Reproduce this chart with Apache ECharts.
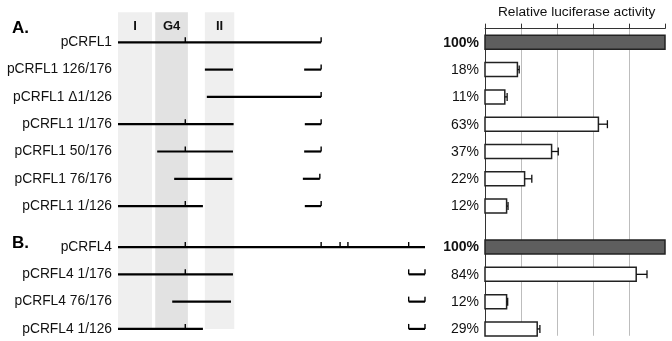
<!DOCTYPE html>
<html><head><meta charset="utf-8">
<script src="https://cdn.jsdelivr.net/npm/echarts@6/dist/echarts.min.js"></script>
<style>html,body{margin:0;padding:0;background:#fff}#c{width:672px;height:341px}</style>
</head><body><div id="c"></div><script>
// ---- data ----
const constructNames = ['pCRFL1','pCRFL1 126/176','pCRFL1 \u03941/126','pCRFL1 1/176','pCRFL1 50/176','pCRFL1 76/176','pCRFL1 1/126',
  'pCRFL4','pCRFL4 1/176','pCRFL4 76/176','pCRFL4 1/126'];
const constructGroup = ['A','A','A','A','A','A','A','B','B','B','B'];
const activity = [100,18,11,63,37,22,12,100,84,12,29];
const activityError = [0,1,1.3,5,3.7,4,0.8,0,6,0.6,1.5];
const isParent = [true,false,false,false,false,false,false,true,false,false,false];
const regionNames = ['I','G4','II'];
const regionStart = [0,57,133];
const regionEnd = [52,107,178];
// schematic segments: [construct index, start, end]
const segments = [
  [0,0,311],
  [1,133,176],[1,285,311],
  [2,136,311],
  [3,0,177],[3,286,311],
  [4,60,176],[4,285,311],
  [5,86,175],[5,283,309],
  [6,0,130],[6,286,311],
  [7,0,470],
  [8,0,176],[8,445,470],
  [9,83,173],[9,445,470],
  [10,0,130],[10,445,470]
];
// small upward tick marks: [construct index, position]
const tickMarks = [
  [0,103],[0,311],
  [1,311],[2,311],
  [3,103],[3,311],
  [4,103],[4,311],
  [5,309],
  [6,103],[6,311],
  [7,103],[7,311],[7,340],[7,352],[7,445],
  [8,103],[8,445],[8,470],
  [9,445],[9,470],
  [10,103],[10,445],[10,470]
];
const groupLabels = ['A.','B.'];
const axisTitle = 'Relative luciferase activity';

// ---- layout helpers ----
const FONT = "'Liberation Sans', Arial, sans-serif";
const rowPos = constructGroup.map((g,i)=> i + (g==='B'?0.5:0));
const Y_MIN = -0.5, Y_MAX = 10.75;
const GTOP = 28.65, GH = 307.1;

const chart = echarts.init(document.getElementById('c'));

const barData = activity.map((v,i)=>[rowPos[i], v, activityError[i], isParent[i]?1:0]);
const segData = segments.map(s=>[rowPos[s[0]], s[1], s[2]]);
const tickData = tickMarks.map(t=>[rowPos[t[0]], t[1]]);
const labelData = constructNames.map((n,i)=>[rowPos[i], 0, n]);
const regionData = regionNames.map((n,i)=>[regionStart[i], regionEnd[i], i, n]);
const regionFill = ['#efefef','#e2e2e2','#efefef'];

const option = {
  animation:false,
  graphic:[
    {type:'text', left:12, top:20, style:{text:groupLabels[0], font:"bold 17px "+FONT, fill:'#000'}},
    {type:'text', left:12, top:235, style:{text:groupLabels[1], font:"bold 17px "+FONT, fill:'#000'}},
    {type:'text', x:576.7, y:12, style:{text:axisTitle, font:"13.7px "+FONT, fill:'#111', align:'center', verticalAlign:'middle'}}
  ],
  grid:[
    {left:118, top:GTOP, width:307, height:GH},
    {left:485, top:GTOP, width:180, height:GH}
  ],
  xAxis:[
    {gridIndex:0, type:'value', min:0, max:470, show:false},
    {gridIndex:1, type:'value', min:0, max:100, interval:20, position:'top',
     axisLine:{show:true, onZero:false, lineStyle:{color:'#333', width:1}},
     axisTick:{show:true, inside:false, length:5, lineStyle:{color:'#333'}},
     axisLabel:{show:false},
     splitLine:{show:true, showMaxLine:false, lineStyle:{color:'#bdbdbd', width:1}}}
  ],
  yAxis:[
    {gridIndex:0, type:'value', inverse:true, min:Y_MIN, max:Y_MAX, show:false},
    {gridIndex:1, type:'value', inverse:true, min:Y_MIN, max:Y_MAX,
     axisLine:{show:true, onZero:false, lineStyle:{color:'#333', width:1}},
     axisTick:{show:false}, axisLabel:{show:false}, splitLine:{show:false}}
  ],
  series:[
    { // shaded regions
      type:'custom', xAxisIndex:0, yAxisIndex:0, clip:false, z:1,
      data:regionData, encode:{x:[0,1]},
      renderItem:(p,api)=>{
        const a = api.coord([api.value(0), -1.1]);
        const b = api.coord([api.value(1), 10.5]);
        const mid = api.coord([(api.value(0)+api.value(1))/2, -0.57]);
        const idx = api.value(2);
        return {type:'group', children:[
          {type:'rect', shape:{x:a[0], y:a[1], width:b[0]-a[0], height:b[1]-a[1]}, style:{fill:regionFill[idx]}},
          {type:'text', x:mid[0], y:mid[1], style:{text:regionNames[idx], font:"bold 13px "+FONT, fill:'#111', align:'center', verticalAlign:'middle'}}
        ]};
      }
    },
    { // construct segments
      type:'custom', xAxisIndex:0, yAxisIndex:0, clip:false, z:3,
      data:segData, encode:{x:[1,2], y:0},
      renderItem:(p,api)=>{
        const a = api.coord([api.value(1), api.value(0)]);
        const b = api.coord([api.value(2), api.value(0)]);
        return {type:'line', shape:{x1:a[0], y1:a[1], x2:b[0], y2:b[1]}, style:{stroke:'#000', lineWidth:2.2}};
      }
    },
    { // tick marks
      type:'custom', xAxisIndex:0, yAxisIndex:0, clip:false, z:3,
      data:tickData, encode:{x:1, y:0},
      renderItem:(p,api)=>{
        const a = api.coord([api.value(1), api.value(0)]);
        return {type:'line', shape:{x1:a[0], y1:a[1], x2:a[0], y2:a[1]-5}, style:{stroke:'#000', lineWidth:1.4}};
      }
    },
    { // construct labels
      type:'custom', xAxisIndex:0, yAxisIndex:0, clip:false, z:3,
      data:labelData, encode:{x:1, y:0},
      renderItem:(p,api)=>{
        const a = api.coord([0, api.value(0)]);
        return {type:'text', x:a[0]-6, y:a[1], style:{text:labelData[p.dataIndex][2], font:"13.8px "+FONT, fill:'#111', align:'right', verticalAlign:'middle'}};
      }
    },
    { // bars with error bars and values
      type:'custom', xAxisIndex:1, yAxisIndex:1, clip:false, z:4,
      data:barData, encode:{x:1, y:0},
      renderItem:(p,api)=>{
        const r = api.value(0), v = api.value(1), e = api.value(2), par = api.value(3)===1;
        const a = api.coord([0, r]);
        const b = api.coord([v, r]);
        const h = 14;
        const ch = [
          {type:'rect', shape:{x:a[0], y:a[1]-h/2, width:b[0]-a[0], height:h},
           style:{fill: par?'#5e5e5e':'#ffffff', stroke:'#222', lineWidth:1.5}}
        ];
        if (e>0) {
          const c = api.coord([v+e, r]);
          ch.push({type:'line', shape:{x1:b[0], y1:b[1], x2:c[0], y2:c[1]}, style:{stroke:'#111', lineWidth:1.3}});
          ch.push({type:'line', shape:{x1:c[0], y1:c[1]-4, x2:c[0], y2:c[1]+4}, style:{stroke:'#111', lineWidth:1.3}});
        }
        ch.push({type:'text', x:a[0]-6, y:a[1]+0.5, style:{text:v+'%', font:(par?'bold ':'')+"14px "+FONT, fill:'#111', align:'right', verticalAlign:'middle'}});
        return {type:'group', children:ch};
      }
    }
  ]
};
chart.setOption(option);
</script></body></html>
